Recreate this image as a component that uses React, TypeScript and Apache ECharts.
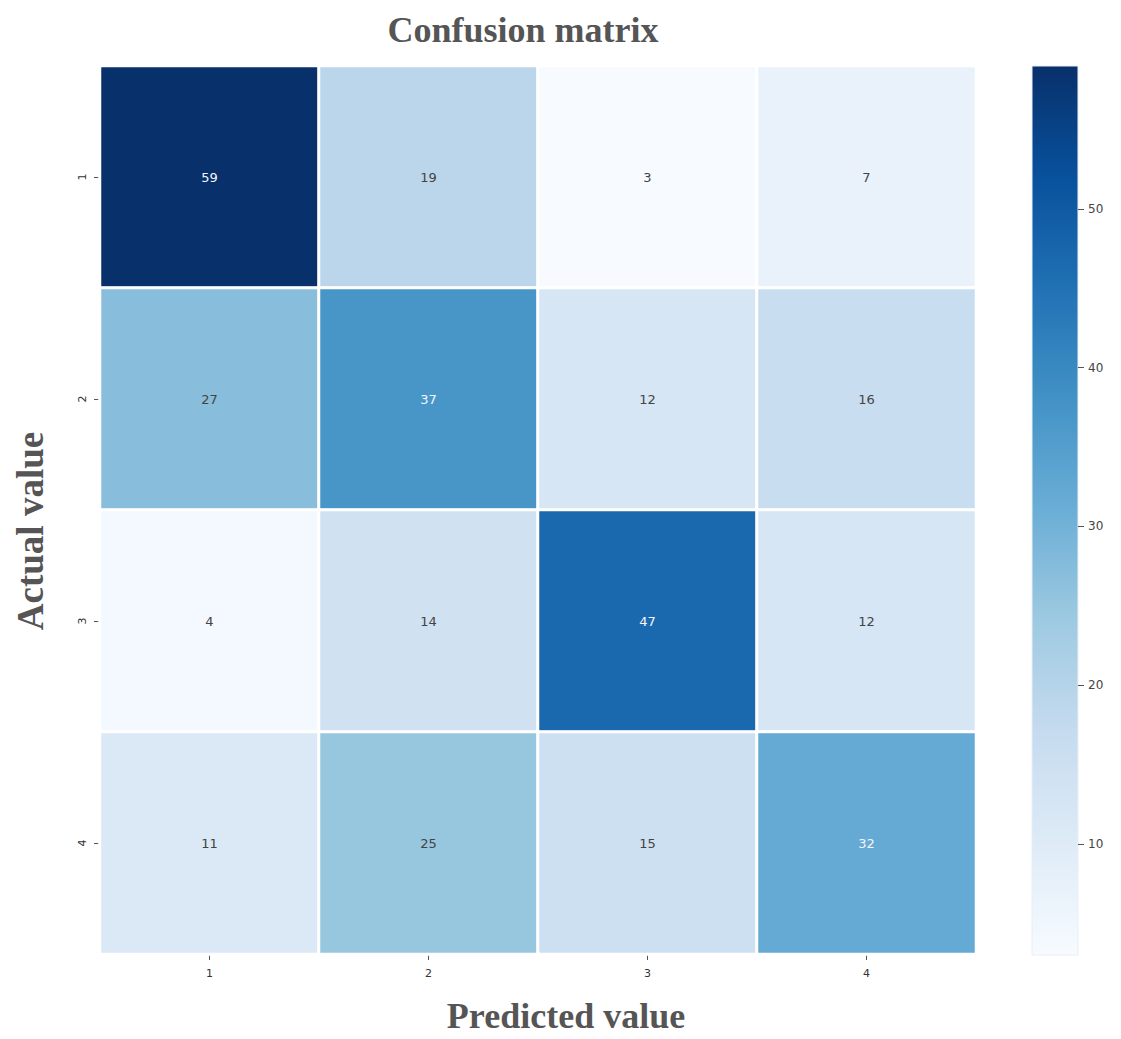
import React, { useEffect, useRef } from "react";
import * as echarts from "echarts";

const predictedLabels = ["1", "2", "3", "4"];
const actualLabels = ["1", "2", "3", "4"];
const matrix = [
  [59, 19, 3, 7],
  [27, 37, 12, 16],
  [4, 14, 47, 12],
  [11, 25, 15, 32],
];
const colorbarTicks = [10, 20, 30, 40, 50];
const blues = ["#f7fbff", "#deebf7", "#c6dbef", "#9ecae1", "#6baed6", "#4292c6", "#2171b5", "#08519c", "#08306b"];

export default function App() {
  const ref = useRef<HTMLDivElement>(null);
  useEffect(() => {
    if (!ref.current) return;
    const chart = echarts.init(ref.current, null, { renderer: "svg" });
    const flat = matrix.flat();
    const vmin = Math.min(...flat);
    const vmax = Math.max(...flat);
    const data: any[] = [];
    matrix.forEach((row, r) =>
      row.forEach((v, c) => {
        data.push({
          value: [c, r, v],
          label: { color: v >= 30 ? "#f4f6fa" : "#444444" },
        });
      })
    );
    const cbTop = 66, cbLeft = 1032, cbW = 46, cbH = 889;
    chart.setOption({
      animation: false,
      backgroundColor: "#ffffff",
      grid: [
        { left: 100, top: 66, width: 876, height: 888 },
        { left: cbLeft, top: cbTop, width: cbW, height: cbH },
      ],
      xAxis: [
        {
          type: "category",
          gridIndex: 0,
          data: predictedLabels,
          position: "bottom",
          axisLine: { show: false },
          axisTick: { show: true, alignWithLabel: true, length: 6, lineStyle: { color: "#555" } },
          axisLabel: { fontSize: 11, color: "#333", fontFamily: "DejaVu Sans", margin: 14 },
          splitLine: { show: false },
        },
        { type: "category", gridIndex: 1, data: ["c"], show: false },
      ],
      yAxis: [
        {
          type: "category",
          gridIndex: 0,
          data: actualLabels,
          inverse: true,
          axisLine: { show: false },
          axisTick: { show: true, alignWithLabel: true, length: 6, lineStyle: { color: "#555" } },
          axisLabel: { fontSize: 11, color: "#333", fontFamily: "DejaVu Sans", rotate: 90, margin: 12 },
          splitLine: { show: false },
        },
        {
          type: "value",
          gridIndex: 1,
          min: vmin,
          max: vmax,
          position: "right",
          axisLine: { show: false },
          splitLine: { show: false },
          axisTick: {
            show: true,
            length: 6,
            customValues: colorbarTicks,
            lineStyle: { color: "#555" },
          },
          axisLabel: {
            customValues: colorbarTicks,
            fontSize: 12,
            color: "#444",
            fontFamily: "DejaVu Sans",
            margin: 10,
          },
        },
      ],
      visualMap: {
        show: false,
        min: vmin,
        max: vmax,
        seriesIndex: 0,
        dimension: 2,
        inRange: { color: blues },
      },
      series: [
        {
          type: "heatmap",
          xAxisIndex: 0,
          yAxisIndex: 0,
          data,
          itemStyle: { borderColor: "#ffffff", borderWidth: 3 },
          label: {
            show: true,
            fontSize: 13,
            fontFamily: "DejaVu Sans",
            formatter: (p: any) => String(p.value[2]),
          },
          emphasis: { disabled: true },
        },
      ],
      graphic: [
        {
          type: "rect",
          shape: { x: cbLeft, y: cbTop, width: cbW, height: cbH },
          style: {
            fill: new echarts.graphic.LinearGradient(
              0, 1, 0, 0,
              blues.map((c, i) => ({ offset: i / (blues.length - 1), color: c }))
            ),
            stroke: "#e8eef6",
            lineWidth: 1,
          },
          z: -1,
        },
        {
          type: "text",
          x: 523,
          y: 30,
          style: {
            text: "Confusion matrix",
            fontSize: 36,
            fontWeight: "bold",
            fontFamily: "Liberation Serif",
            fill: "#555555",
            align: "center",
            verticalAlign: "middle",
          },
        },
        {
          type: "text",
          x: 566,
          y: 1016,
          style: {
            text: "Predicted value",
            fontSize: 36,
            fontWeight: "bold",
            fontFamily: "Liberation Serif",
            fill: "#555555",
            align: "center",
            verticalAlign: "middle",
          },
        },
        {
          type: "text",
          x: 30,
          y: 531,
          rotation: Math.PI / 2,
          style: {
            text: "Actual value",
            fontSize: 37,
            fontWeight: "bold",
            fontFamily: "Liberation Serif",
            fill: "#555555",
            align: "center",
            verticalAlign: "middle",
          },
        },
      ],
    });
    return () => chart.dispose();
  }, []);
  return (
    <div
      ref={ref}
      style={{ position: "absolute", left: 0, top: 0, width: 1121, height: 1039 }}
    />
  );
}
